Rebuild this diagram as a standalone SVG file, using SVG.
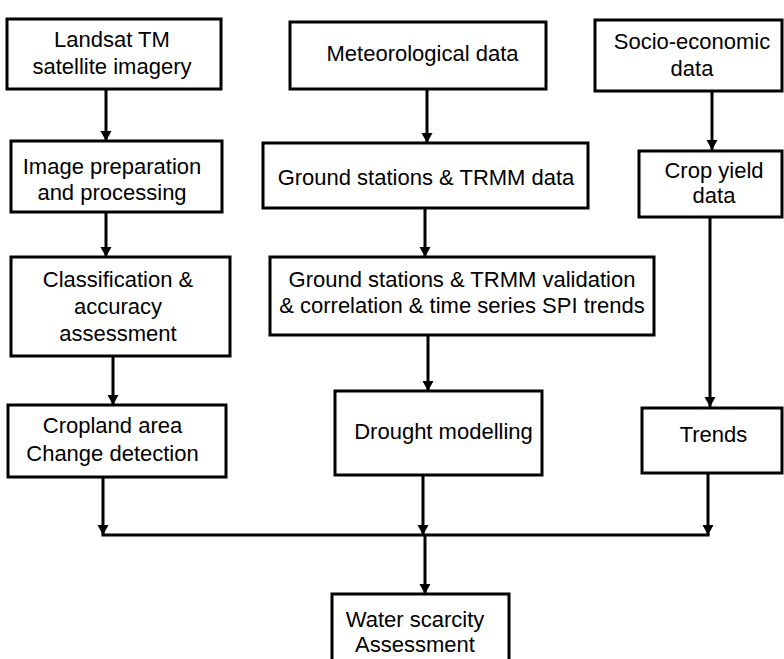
<svg xmlns="http://www.w3.org/2000/svg" width="784" height="659" viewBox="0 0 784 659">
<style>
.box{fill:#fff;stroke:#000;stroke-width:3}
.t{font-family:"Liberation Sans",Arial,sans-serif;font-size:22px;fill:#000;text-anchor:middle}
.c{fill:none;stroke:#000;stroke-width:3}
</style>
<defs>
<marker id="ah" markerUnits="userSpaceOnUse" markerWidth="12" markerHeight="12" refX="10" refY="5.5" orient="auto">
<path d="M0,0 L10,5.5 L0,11 Z" fill="#000"/>
</marker>
</defs>
<rect width="784" height="659" fill="#fff"/>
<g id="connectors">
<line class="c" x1="106" y1="89" x2="106" y2="141" marker-end="url(#ah)"/>
<line class="c" x1="106" y1="212" x2="106" y2="257" marker-end="url(#ah)"/>
<line class="c" x1="113" y1="356" x2="113" y2="405" marker-end="url(#ah)"/>
<line class="c" x1="427" y1="89" x2="427" y2="143" marker-end="url(#ah)"/>
<line class="c" x1="425" y1="208" x2="425" y2="257" marker-end="url(#ah)"/>
<line class="c" x1="428" y1="335" x2="428" y2="391" marker-end="url(#ah)"/>
<line class="c" x1="712" y1="91" x2="712" y2="150" marker-end="url(#ah)"/>
<line class="c" x1="710" y1="217" x2="710" y2="407" marker-end="url(#ah)"/>
<line class="c" x1="103" y1="477" x2="103" y2="535" marker-end="url(#ah)"/>
<line class="c" x1="423" y1="475" x2="423" y2="535" marker-end="url(#ah)"/>
<line class="c" x1="708" y1="473" x2="708" y2="535" marker-end="url(#ah)"/>
<line class="c" x1="101.5" y1="535" x2="709.5" y2="535"/>
<line class="c" x1="425" y1="535" x2="425" y2="594" marker-end="url(#ah)"/>
</g>
<g id="landsat">
<rect class="box" x="7" y="19" width="214" height="70"/>
<text class="t" x="112" y="47">Landsat TM</text>
<text class="t" x="112" y="74">satellite imagery</text>
</g>
<g id="image-prep">
<rect class="box" x="11" y="141" width="211" height="71"/>
<text class="t" x="112" y="174">Image preparation</text>
<text class="t" x="112" y="200">and processing</text>
</g>
<g id="classification">
<rect class="box" x="11" y="257" width="219" height="99"/>
<text class="t" x="118" y="287">Classification &amp;</text>
<text class="t" x="118" y="314">accuracy</text>
<text class="t" x="118" y="341">assessment</text>
</g>
<g id="cropland">
<rect class="box" x="8" y="405" width="218" height="72"/>
<text class="t" x="112.5" y="433">Cropland area</text>
<text class="t" x="112.5" y="461">Change detection</text>
</g>
<g id="meteorological">
<rect class="box" x="290" y="22" width="256" height="67"/>
<text class="t" x="422.5" y="61">Meteorological data</text>
</g>
<g id="ground-trmm">
<rect class="box" x="263" y="143" width="325" height="65"/>
<text class="t" x="426" y="185">Ground stations &amp; TRMM data</text>
</g>
<g id="validation">
<rect class="box" x="270" y="257" width="384" height="78"/>
<text class="t" x="462" y="287">Ground stations &amp; TRMM validation</text>
<text class="t" x="462" y="313">&amp; correlation &amp; time series SPI trends</text>
</g>
<g id="drought">
<rect class="box" x="335" y="391" width="207" height="84"/>
<text class="t" x="443.5" y="439">Drought modelling</text>
</g>
<g id="socio">
<rect class="box" x="595" y="20" width="187" height="71"/>
<text class="t" x="692" y="49">Socio-economic</text>
<text class="t" x="692" y="76">data</text>
</g>
<g id="crop-yield">
<rect class="box" x="639" y="151" width="143" height="66"/>
<text class="t" x="714" y="178">Crop yield</text>
<text class="t" x="714" y="203">data</text>
</g>
<g id="trends">
<rect class="box" x="642" y="408" width="140" height="65"/>
<text class="t" x="713.5" y="442">Trends</text>
</g>
<g id="water">
<rect class="box" x="332" y="594" width="177" height="70"/>
<text class="t" x="415" y="627">Water scarcity</text>
<text class="t" x="415" y="652">Assessment</text>
</g>
</svg>
